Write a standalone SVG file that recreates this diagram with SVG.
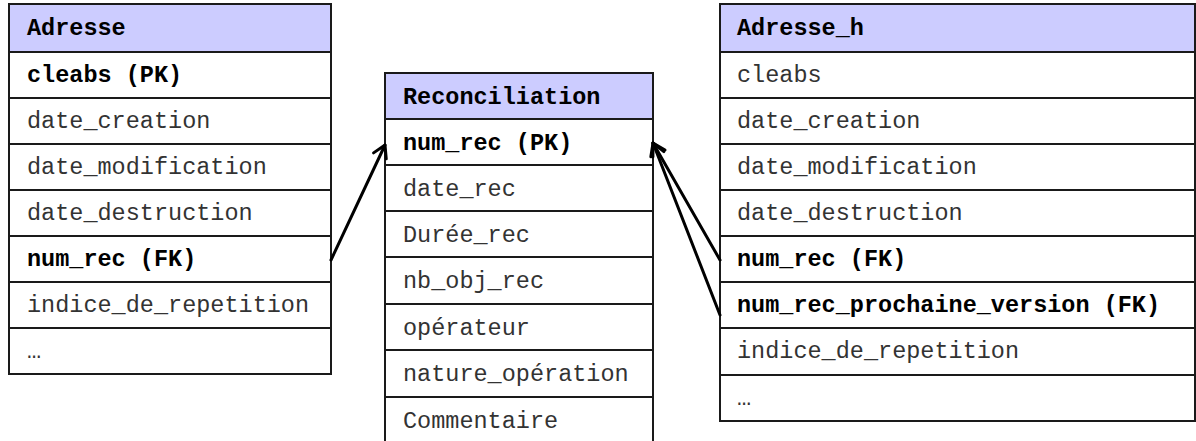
<svg xmlns="http://www.w3.org/2000/svg" width="1196" height="441" viewBox="0 0 1196 441">
  <style>
    .box { fill: #ffffff; stroke: #1a1a1a; stroke-width: 2; }
    .head { fill: #ccccff; stroke: #1a1a1a; stroke-width: 2; }
    .sep { stroke: #1a1a1a; stroke-width: 2; }
    text { font-family: "Liberation Mono", "Courier New", monospace; font-size: 23.5px; fill: #333333; }
    .b { font-weight: bold; fill: #000000; }
    .link { fill: none; stroke: #000000; stroke-width: 3; stroke-linecap: round; }
  </style>
  <defs>
    <marker id="open-arrow" markerUnits="userSpaceOnUse" markerWidth="20" markerHeight="20" viewBox="-14 -10 16 20" refX="0" refY="0" orient="auto">
      <path d="M -12 -7 L 0 0 L -12 7" fill="none" stroke="#000000" stroke-width="3" stroke-linecap="round" stroke-linejoin="round"/>
    </marker>
  </defs>
  <rect width="1196" height="441" fill="#ffffff"/>

  <!-- Table: Adresse -->
  <g id="adresse">
    <rect class="box" x="9" y="4" width="322" height="370"/>
    <rect class="head" x="9" y="4" width="322" height="48"/>
    <line class="sep" x1="9" y1="98" x2="331" y2="98"/>
    <line class="sep" x1="9" y1="144" x2="331" y2="144"/>
    <line class="sep" x1="9" y1="190" x2="331" y2="190"/>
    <line class="sep" x1="9" y1="236" x2="331" y2="236"/>
    <line class="sep" x1="9" y1="282" x2="331" y2="282"/>
    <line class="sep" x1="9" y1="328" x2="331" y2="328"/>
    <text class="b" x="27" y="35">Adresse</text>
    <text class="b" x="27" y="82">cleabs (PK)</text>
    <text x="27" y="128">date_creation</text>
    <text x="27" y="174">date_modification</text>
    <text x="27" y="220">date_destruction</text>
    <text class="b" x="27" y="266">num_rec (FK)</text>
    <text x="27" y="312">indice_de_repetition</text>
    <text x="27" y="358">…</text>
  </g>

  <!-- Table: Reconciliation -->
  <g id="reconciliation">
    <rect class="box" x="385" y="73" width="268" height="372"/>
    <rect class="head" x="385" y="73" width="268" height="46"/>
    <line class="sep" x1="385" y1="165" x2="653" y2="165"/>
    <line class="sep" x1="385" y1="211" x2="653" y2="211"/>
    <line class="sep" x1="385" y1="257" x2="653" y2="257"/>
    <line class="sep" x1="385" y1="304" x2="653" y2="304"/>
    <line class="sep" x1="385" y1="350" x2="653" y2="350"/>
    <line class="sep" x1="385" y1="397" x2="653" y2="397"/>
    <text class="b" x="403" y="104">Reconciliation</text>
    <text class="b" x="403" y="150">num_rec (PK)</text>
    <text x="403" y="196">date_rec</text>
    <text x="403" y="242">Durée_rec</text>
    <text x="403" y="288">nb_obj_rec</text>
    <text x="403" y="335">opérateur</text>
    <text x="403" y="381">nature_opération</text>
    <text x="403" y="428">Commentaire</text>
  </g>

  <!-- Table: Adresse_h -->
  <g id="adresse_h">
    <rect class="box" x="720" y="4" width="475" height="417"/>
    <rect class="head" x="720" y="4" width="475" height="48"/>
    <line class="sep" x1="720" y1="98" x2="1195" y2="98"/>
    <line class="sep" x1="720" y1="144" x2="1195" y2="144"/>
    <line class="sep" x1="720" y1="190" x2="1195" y2="190"/>
    <line class="sep" x1="720" y1="236" x2="1195" y2="236"/>
    <line class="sep" x1="720" y1="282" x2="1195" y2="282"/>
    <line class="sep" x1="720" y1="328" x2="1195" y2="328"/>
    <line class="sep" x1="720" y1="375" x2="1195" y2="375"/>
    <text class="b" x="737" y="35">Adresse_h</text>
    <text x="737" y="82">cleabs</text>
    <text x="737" y="128">date_creation</text>
    <text x="737" y="174">date_modification</text>
    <text x="737" y="220">date_destruction</text>
    <text class="b" x="737" y="266">num_rec (FK)</text>
    <text class="b" x="737" y="312">num_rec_prochaine_version (FK)</text>
    <text x="737" y="358">indice_de_repetition</text>
    <text x="737" y="405">…</text>
  </g>

  <!-- Foreign key links -->
  <g id="connectors">
    <line class="link" x1="331" y1="260" x2="385" y2="145" marker-end="url(#open-arrow)"/>
    <line class="link" x1="720" y1="260" x2="653" y2="143" marker-end="url(#open-arrow)"/>
    <line class="link" x1="720" y1="315" x2="653" y2="143" marker-end="url(#open-arrow)"/>
  </g>
</svg>
